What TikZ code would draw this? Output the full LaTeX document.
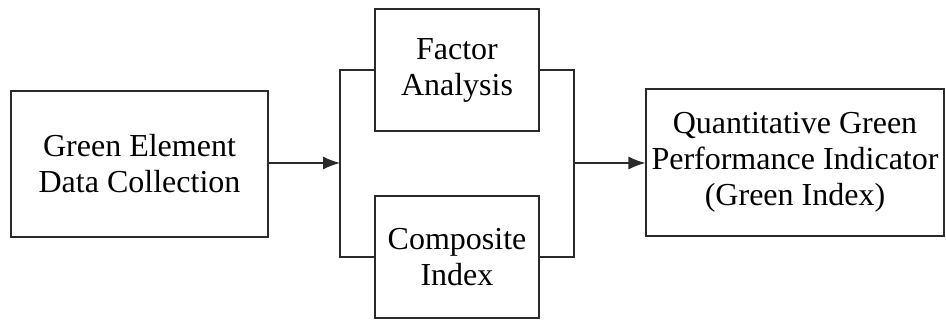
\documentclass[tikz,border=0pt]{standalone}
\usepackage{fontspec}
\setmainfont{Liberation Serif}
\usepackage{tikz}
\usetikzlibrary{positioning,calc,arrows.meta}
\definecolor{lline}{HTML}{2A2A2A}

\begin{document}
\begin{tikzpicture}[x=0.5pt, y=-0.5pt, >=Latex,
  box/.style={draw=lline, line width=0.6pt, fill=white, text=black, align=center,
              inner sep=2pt, font=\fontsize{16}{18}\selectfont},
  arr/.style={-{Latex[length=8.5pt, width=6.5pt]}, line width=0.6pt, draw=lline},
  link/.style={line width=0.6pt, draw=lline}]
  \useasboundingbox (0,0) rectangle (946,320);
  \node[box, minimum width=128.5pt, minimum height=73pt] (collect) at (139.5,164)
    {Green Element\\Data Collection};
  \node[box, minimum width=82pt, minimum height=61pt] (factor) at (457,70)
    {Factor\\Analysis};
  \node[box, minimum width=82pt, minimum height=61pt] (composite) at (457,257)
    {Composite\\Index};
  \node[box, minimum width=149pt, minimum height=73.5pt] (indicator) at (795,162.5)
    {Quantitative Green\\Performance Indicator\\(Green Index)};
  \coordinate (split) at (340,163);
  \coordinate (merge) at (574,163);
  \draw[arr] (collect.east |- split) -- (split);
  \draw[link] (factor.west) -| (split) |- (composite.west);
  \draw[link] (factor.east) -| (merge) |- (composite.east);
  \draw[arr] (merge) -- (indicator.west |- merge);
\end{tikzpicture}
\end{document}
